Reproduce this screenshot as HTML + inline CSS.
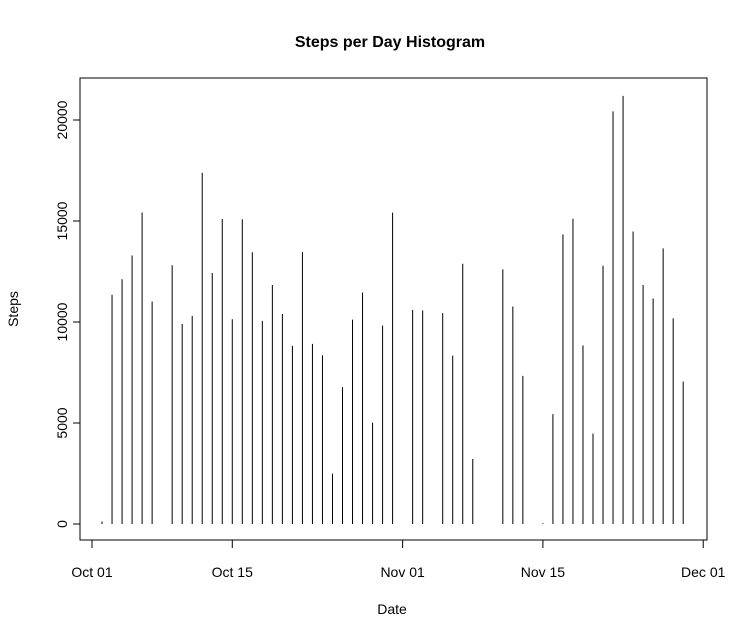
<!DOCTYPE html>
<html><head><meta charset="utf-8"><style>
body{margin:0;background:#fff;}
text{font-family:"Liberation Sans",Arial,sans-serif;}
</style></head><body>
<svg id="chart" width="747" height="639" xmlns="http://www.w3.org/2000/svg">
<rect width="747" height="639" fill="#fff"/>
<text x="390" y="47" text-anchor="middle" font-size="16" font-weight="bold">Steps per Day Histogram</text>
<rect x="80" y="78" width="627" height="462" fill="none" stroke="#000"/>
<text x="392" y="614" text-anchor="middle" font-size="14">Date</text>
<text transform="translate(18,309) rotate(-90)" text-anchor="middle" font-size="14">Steps</text>
<g id="bars"></g><g id="axes"></g>
</svg>
<script>
const days = [1,2,3,4,5,6,8,9,10,11,12,13,14,15,16,17,18,19,20,21,22,23,24,25,26,27,28,29,30,32,33,35,36,37,38,41,42,43,45,46,47,48,49,50,51,52,53,54,55,56,57,58,59];
const steps = [126,11352,12116,13294,15420,11015,12811,9900,10304,17382,12426,15098,10139,15084,13452,10056,11829,10395,8821,13460,8918,8355,2492,6778,10119,11458,5018,9819,15414,10600,10571,10439,8334,12883,3219,12608,10765,7336,41,5441,14339,15110,8841,4472,12787,20427,21194,14478,11834,11162,13646,10183,7047];
const yTicks = [0,5000,10000,15000,20000];
const xTickDays = [0,14,31,45,61];
const xTickLabels = ["Oct 01","Oct 15","Nov 01","Nov 15","Dec 01"];
const NS="http://www.w3.org/2000/svg";
const xs = d => 92 + d*10.02;
const ys = v => 524 - v*0.0202;
const bars=document.getElementById('bars'), axes=document.getElementById('axes');
function mk(tag,attrs,parent){const e=document.createElementNS(NS,tag);for(const k in attrs)e.setAttribute(k,attrs[k]);parent.appendChild(e);return e;}
days.forEach((d,i)=>{
  const l=mk('line',{x1:xs(d),x2:xs(d),y1:ys(0),y2:ys(steps[i]),stroke:'#000','stroke-width':1},bars);
  
  
});
const ya=mk('line',{x1:80,x2:80,y1:ys(0),y2:ys(20000),stroke:'#000'},axes);


yTicks.forEach(v=>{
  mk('line',{x1:73,x2:80,y1:ys(v),y2:ys(v),stroke:'#000'},axes);
  const t=mk('text',{transform:`translate(67,${ys(v)}) rotate(-90)`,'text-anchor':'middle','font-size':14},axes);
  t.textContent=v;
  
  
});
const xa=mk('line',{x1:xs(0),x2:xs(61),y1:540,y2:540,stroke:'#000'},axes);


xTickDays.forEach((d,i)=>{
  mk('line',{x1:xs(d),x2:xs(d),y1:540,y2:548,stroke:'#000'},axes);
  const t=mk('text',{x:xs(d),y:577,'text-anchor':'middle','font-size':14},axes);
  t.textContent=xTickLabels[i];
  
  
});
</script>
</body></html>
